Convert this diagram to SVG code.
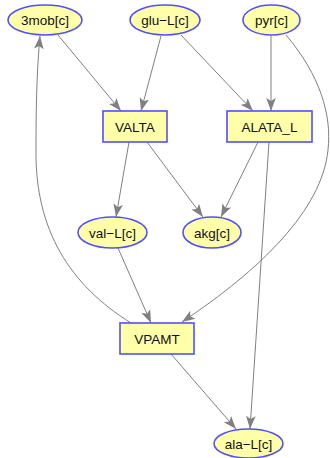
<svg xmlns="http://www.w3.org/2000/svg" width="330" height="458" viewBox="0 0 330 458">
  <defs>
    <marker id="arrow" markerUnits="userSpaceOnUse" markerWidth="14" markerHeight="12" viewBox="0 -6 14 12" refX="13" refY="0" orient="auto">
      <path d="M0,-4.8 L13,0 L0,4.8 L3,0 Z" fill="#808080"/>
    </marker>
    <style>
      .met ellipse { fill: #ffffaa; stroke: #5050ff; stroke-width: 1.6; }
      .rxn rect { fill: #ffffaa; stroke: #5050ff; stroke-width: 1.6; }
      text { font-family: "Liberation Sans", Arial, sans-serif; font-size: 13.5px; fill: #111; text-anchor: middle; }
      #edges path { fill: none; stroke: #808080; stroke-width: 1; marker-end: url(#arrow); }
    </style>
  </defs>
  <rect width="330" height="458" fill="#ffffff"/>

  <g id="edges">
    <path d="M58,35 L121,111"/>
    <path d="M161,36 L141,111"/>
    <path d="M181,35 L253,111"/>
    <path d="M271,36 L271,111"/>
    <path d="M286,35 C320,75 332,115 328,150 C322,210 260,270 182,322"/>
    <path d="M129,142 L116,217"/>
    <path d="M147,142 L203,217"/>
    <path d="M258,142 L221,217"/>
    <path d="M269,142 L250,429"/>
    <path d="M118,248 L151,323"/>
    <path d="M171,354 L236,429"/>
    <path d="M131,323 C70,285 35,230 36,150 C36,100 37,70 40,36"/>
  </g>

  <g id="n_3mob" class="met">
    <ellipse cx="45" cy="20" rx="37" ry="15"/>
    <text x="45" y="25">3mob[c]</text>
  </g>
  <g id="n_glu" class="met">
    <ellipse cx="165" cy="20" rx="35" ry="15"/>
    <text x="165" y="25">glu−L[c]</text>
  </g>
  <g id="n_pyr" class="met">
    <ellipse cx="271.5" cy="20" rx="28.5" ry="15"/>
    <text x="271.5" y="25">pyr[c]</text>
  </g>
  <g id="r_VALTA" class="rxn">
    <rect x="103" y="111" width="64" height="31"/>
    <text x="135" y="131.5">VALTA</text>
  </g>
  <g id="r_ALATA_L" class="rxn">
    <rect x="227" y="111" width="85" height="31"/>
    <text x="269.5" y="131.5">ALATA_L</text>
  </g>
  <g id="n_val" class="met">
    <ellipse cx="112.5" cy="232.5" rx="34.5" ry="15.5"/>
    <text x="112.5" y="237.5">val−L[c]</text>
  </g>
  <g id="n_akg" class="met">
    <ellipse cx="212" cy="232.5" rx="29" ry="15.5"/>
    <text x="212" y="237.5">akg[c]</text>
  </g>
  <g id="r_VPAMT" class="rxn">
    <rect x="120" y="323" width="74" height="31"/>
    <text x="157" y="343.5">VPAMT</text>
  </g>
  <g id="n_ala" class="met">
    <ellipse cx="248.5" cy="443.5" rx="34.5" ry="14.5"/>
    <text x="248.5" y="448.5">ala−L[c]</text>
  </g>
</svg>
